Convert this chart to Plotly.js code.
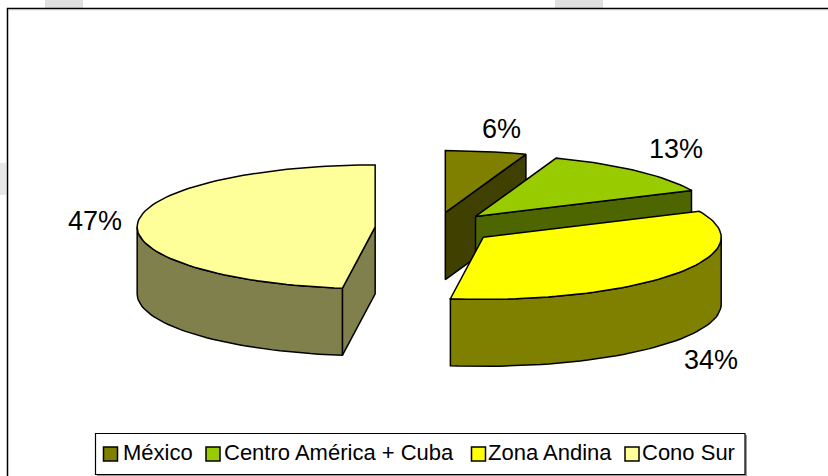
<!DOCTYPE html>
<html>
<head>
<meta charset="utf-8">
<script src="https://cdn.plot.ly/plotly-3.0.1.min.js"></script>
<style>html,body{margin:0;padding:0;background:#fff;overflow:hidden}#chart{width:828px;height:476px}</style>
</head>
<body>
<div id="chart"></div>
<script>
// Data
const categories = ['México', 'Centro América + Cuba', 'Zona Andina', 'Cono Sur'];
const shares = [5.5, 12.6, 34.1, 47.8];
const percentLabels = ['6%', '13%', '34%', '47%'];

// Style
const topColors = ['#808000', '#99cc00', '#ffff00', '#ffff99'];
const wallColors = ['#404000', '#4d6600', '#808000', '#80804d'];
const labelPos = [[501, 129], [676, 149], [711, 360], [95, 221]];
const legendSwatchX = [110.5, 213, 478.5, 632];
const legendTextX = [121, 222, 486, 640];

// Projection of the tilted pie, in pixel-valued axes
const PIE = {cx: 435, cy: 228, rx: 238, ry: 62, depth: 67, explode: 0.252};
const FONT = 'Liberation Sans, Arial, sans-serif';
const rad = d => d * Math.PI / 180;

const total = shares.reduce((a, b) => a + b, 0);
const traces = [];
const annotations = [];
let cursor = 0;

function poly(pts, color) {
  traces.push({
    type: 'scatter', mode: 'lines', x: pts.map(p => p[0]), y: pts.map(p => p[1]),
    fill: 'toself', fillcolor: color, line: {color: '#000', width: 1.5, shape: 'linear'},
    showlegend: false, hoverinfo: 'skip'
  });
}
function arc(c, a, b) {
  const n = Math.max(1, Math.ceil(Math.abs(b - a) / 2));
  const out = [];
  for (let i = 0; i <= n; i++) {
    const t = rad(a + (b - a) * i / n);
    out.push([c[0] + PIE.rx * Math.sin(t), c[1] - PIE.ry * Math.cos(t)]);
  }
  return out;
}
const drop = pts => pts.map(p => [p[0], p[1] + PIE.depth]);

shares.forEach((v, i) => {
  const a = cursor, b = cursor + v / total * 360;
  cursor = b;
  const mid = rad((a + b) / 2);
  const c = [PIE.cx + PIE.explode * PIE.rx * Math.sin(mid), PIE.cy - PIE.explode * PIE.ry * Math.cos(mid)];
  const edge = ang => { const e = arc(c, ang, ang)[0]; return [c, e]; };
  // visible radial faces
  if (Math.sin(rad(a)) < -1e-6) { const s = edge(a); poly(s.concat(drop(s).reverse()).concat([s[0]]), wallColors[i]); }
  if (Math.sin(rad(b)) > 1e-6) { const s = edge(b); poly(s.concat(drop(s).reverse()).concat([s[0]]), wallColors[i]); }
  // visible outer rim
  const f = Math.max(a, 90), t = Math.min(b, 270);
  if (t > f) { const r = arc(c, f, t); poly(r.concat(drop(r).reverse()).concat([r[0]]), wallColors[i]); }
  // top face
  poly([c].concat(arc(c, a, b)).concat([c]), topColors[i]);
  annotations.push({
    x: labelPos[i][0], y: labelPos[i][1], xref: 'x', yref: 'y', showarrow: false,
    text: percentLabels[i], font: {family: FONT, size: 27, color: '#000'},
    xanchor: 'center', yanchor: 'middle'
  });
});

// Legend
categories.forEach((name, i) => {
  traces.push({
    type: 'scatter', mode: 'markers', x: [legendSwatchX[i]], y: [454],
    marker: {symbol: 'square', size: 14, color: topColors[i], line: {color: '#000', width: 1.5}},
    showlegend: false, hoverinfo: 'skip'
  });
  annotations.push({
    x: legendTextX[i], y: 452, xref: 'x', yref: 'y', showarrow: false, text: name,
    font: {family: FONT, size: 22, color: '#000'}, xanchor: 'left', yanchor: 'middle'
  });
});

const rect = (x0, y0, x1, y1, fill, lineColor, w) => ({
  type: 'rect', xref: 'x', yref: 'y', x0, y0, x1, y1, fillcolor: fill,
  line: {color: lineColor, width: w}, layer: 'below'
});
const none = 'rgba(0,0,0,0)';
const layout = {
  width: 828, height: 476, margin: {l: 0, r: 0, t: 0, b: 0},
  paper_bgcolor: '#fff', plot_bgcolor: '#fff', showlegend: false,
  xaxis: {range: [0, 828], visible: false, fixedrange: true},
  yaxis: {range: [476, 0], visible: false, fixedrange: true},
  annotations: annotations,
  shapes: [
    rect(45, 0, 83, 8, '#e0e0e0', none, 0),
    rect(555, 0, 603, 8, '#e0e0e0', none, 0),
    rect(0, 163, 6, 195, '#e8e8e8', none, 0),
    rect(7.5, 8.5, 840, 490, '#ffffff', '#000', 1.5),
    rect(8.5, 9.5, 840, 10.2, '#bdbdbd', none, 0),
    rect(97, 435, 747, 476, '#9a9a9a', none, 0),
    rect(95.5, 433.5, 745, 474.5, '#ffffff', '#000', 1.2)
  ]
};
Plotly.newPlot('chart', traces, layout, {displayModeBar: false, staticPlot: true});
</script>
</body>
</html>
